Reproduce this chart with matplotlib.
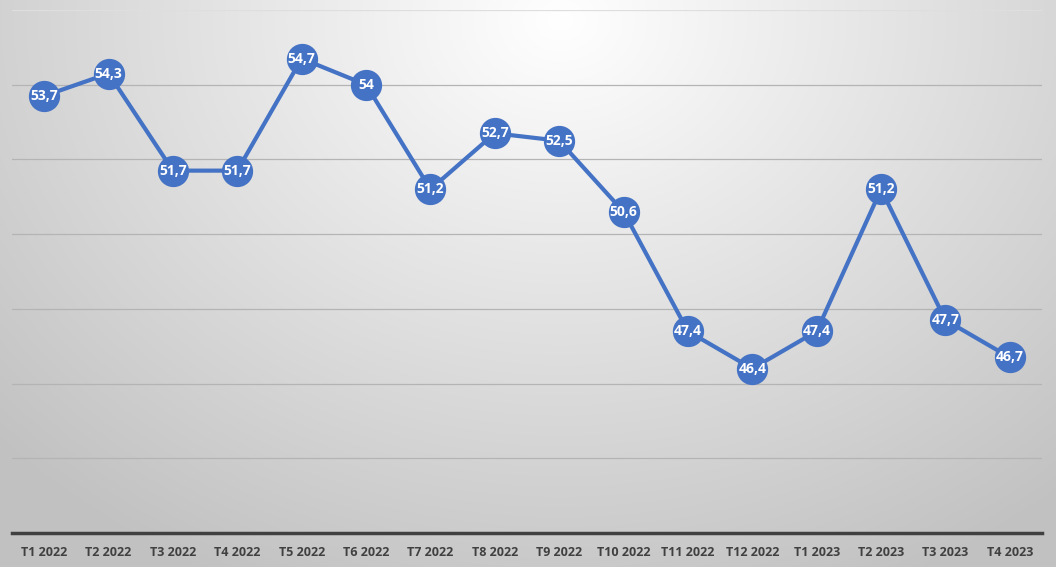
import matplotlib
matplotlib.use("Agg")
from matplotlib import pyplot as plt
import numpy as np

periods = ["T1 2022", "T2 2022", "T3 2022", "T4 2022", "T5 2022", "T6 2022",
           "T7 2022", "T8 2022", "T9 2022", "T10 2022", "T11 2022", "T12 2022",
           "T1 2023", "T2 2023", "T3 2023", "T4 2023"]
values = [53.7, 54.3, 51.7, 51.7, 54.7, 54.0, 51.2, 52.7, 52.5, 50.6,
          47.4, 46.4, 47.4, 51.2, 47.7, 46.7]

plt.rcParams['font.family'] = ['Open Sans', 'DejaVu Sans']

fig = plt.figure(figsize=(10.56, 5.67), dpi=100)

# radial gradient background
bg = fig.add_axes([0, 0, 1, 1], zorder=-10)
yy, xx = np.mgrid[0:567, 0:1056]
d = np.sqrt(((xx - 560) / 760.0) ** 2 + ((yy - 20) / 620.0) ** 2)
d = np.clip(d, 0, 1)
shade = 1.0 - 0.24 * d
bg.imshow(np.dstack([shade, shade, shade]), aspect='auto', extent=[0, 1, 0, 1])
bg.axis('off')

ax = fig.add_axes([12 / 1056, 1 - 533 / 567, 1030 / 1056, 523 / 567])
ax.patch.set_alpha(0)
x = np.arange(len(values))
ax.plot(x, values, color='#4472C4', lw=3, marker='o', ms=21.5,
        mfc='#4472C4', mec='#4472C4', zorder=3)
for xi, v in zip(x, values):
    lbl = f"{v:g}".replace('.', ',')
    ax.text(xi, v, lbl, ha='center', va='center', color='white',
            fontsize=10, fontweight='bold', zorder=4)

ax.set_xlim(-0.5, len(values) - 0.5)
ax.set_ylim(42, 56)
ax.set_yticks(np.arange(44, 57, 2))
ax.yaxis.grid(True, color='#b4b4b4', lw=0.9)
ax.get_ygridlines()[-1].set_color('#dedede')
ax.set_axisbelow(True)
ax.tick_params(axis='y', left=False, labelleft=False)
ax.set_xticks(x)
ax.set_xticklabels(periods, fontsize=9, fontweight='bold', color='#404040')
ax.tick_params(axis='x', length=0, pad=9)
for s in ['top', 'right', 'left']:
    ax.spines[s].set_visible(False)
ax.spines['bottom'].set_color('#404040')
ax.spines['bottom'].set_linewidth(2.5)

fig.savefig("out.png", dpi=100)
